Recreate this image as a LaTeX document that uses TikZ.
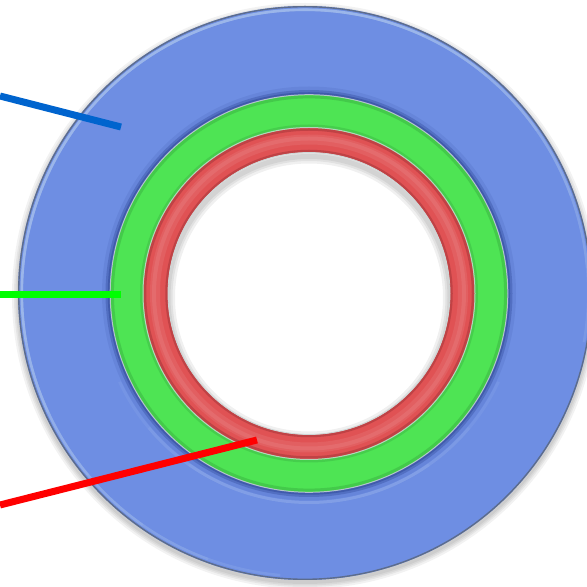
\documentclass[tikz,border=0pt]{standalone}
\definecolor{ringblue}{RGB}{110,142,227}
\definecolor{blueshade}{RGB}{38,62,140}
\definecolor{bluehi}{RGB}{182,205,240}
\definecolor{rimdark}{RGB}{92,108,140}
\definecolor{ringgreen}{RGB}{78,228,84}
\definecolor{greenshade}{RGB}{30,110,40}
\definecolor{ringred}{RGB}{224,82,84}
\definecolor{redshade}{RGB}{120,30,35}
\definecolor{seam}{RGB}{205,215,215}
\definecolor{leaderblue}{RGB}{0,100,206}
\definecolor{leadergreen}{RGB}{0,255,0}
\definecolor{leaderred}{RGB}{255,0,0}
\tikzset{
  leader/.style={line width=7pt},
  softshadow/.style={black,opacity=0.05},
}
\begin{document}
\begin{tikzpicture}[x=1pt,y=1pt]
\path[use as bounding box] (0,0) rectangle (587,587);
\fill[white] (0,0) rectangle (587,587);
\clip (0,0) rectangle (587,587);

\coordinate (cb) at (305,294);   % centre of the outer washer
\coordinate (c)  at (309,293.5); % centre of the two inner rings

% ---- outer (blue) washer ----
\foreach \w in {12pt,8pt,5pt,2pt}
  \fill[softshadow] ([yshift=-3pt]cb) circle[radius={287pt+0.5*\w}];
\fill[ringblue] (cb) circle[radius=287pt];
\draw[rimdark,line width=1.4pt] (cb) circle[radius=286.3pt];
% highlight along the upper left rim, fading out at both ends
\foreach \a/\b in {65/190,50/205,35/220,20/235,5/250,-10/265}
  \draw[bluehi,line width=2.6pt,opacity=0.16]
    ([shift={(\a:283.2pt)}]cb) arc[start angle=\a,end angle=\b,radius=283.2pt];
% groove around the green ring
\foreach \a/\b in {235/305,220/320,205/335}
  \draw[bluehi,line width=3pt,opacity=0.1]
    ([shift={(\a:209pt)}]c) arc[start angle=\a,end angle=\b,radius=209pt];
\draw[blueshade,line width=10pt,opacity=0.1] (c) circle[radius=202pt];
\draw[blueshade,line width=5pt,opacity=0.3] (c) circle[radius=201pt];
\draw[blueshade,line width=2.5pt,opacity=0.4] (c) circle[radius=200pt];

% ---- green ring ----
\fill[ringgreen] (c) circle[radius=198.5pt];
\draw[seam,line width=1pt,opacity=0.8] (c) circle[radius=198.8pt];
\draw[greenshade,line width=3pt,opacity=0.22] (c) circle[radius=196.6pt];
\draw[greenshade,line width=3pt,opacity=0.18] (c) circle[radius=167.5pt];

% ---- red ring ----
\fill[ringred] (c) circle[radius=165.5pt];
\draw[seam,line width=1pt,opacity=0.8] (c) circle[radius=166pt];
\draw[redshade,line width=2.5pt,opacity=0.3] (c) circle[radius=164pt];
\draw[redshade,line width=2.5pt,opacity=0.3] (c) circle[radius=142.5pt];
\draw[white,line width=10pt,opacity=0.08] (c) circle[radius=154pt];
\draw[white,line width=4pt,opacity=0.08] (c) circle[radius=155pt];

% ---- central hole ----
\fill[white] (c) circle[radius=141pt];
\begin{scope}
  \clip (c) circle[radius=141pt];
  \foreach \w in {14pt,9pt,5pt}
    \draw[black,opacity=0.06,line width=\w] ([yshift=-4pt]c) circle[radius=141pt];
\end{scope}
\draw[seam,line width=0.8pt] (c) circle[radius=141pt];

% ---- leader lines ----
\coordinate (lbA) at (0,491);   \coordinate (lbB) at (121,460);
\coordinate (lgA) at (0,292.5); \coordinate (lgB) at (121,292.5);
\coordinate (lrA) at (0,82);    \coordinate (lrB) at (257,147);
\draw[leader,leaderblue]  (lbA) -- (lbB);
\draw[leader,leadergreen] (lgA) -- (lgB);
\draw[leader,leaderred]   (lrA) -- (lrB);
\end{tikzpicture}
\end{document}
